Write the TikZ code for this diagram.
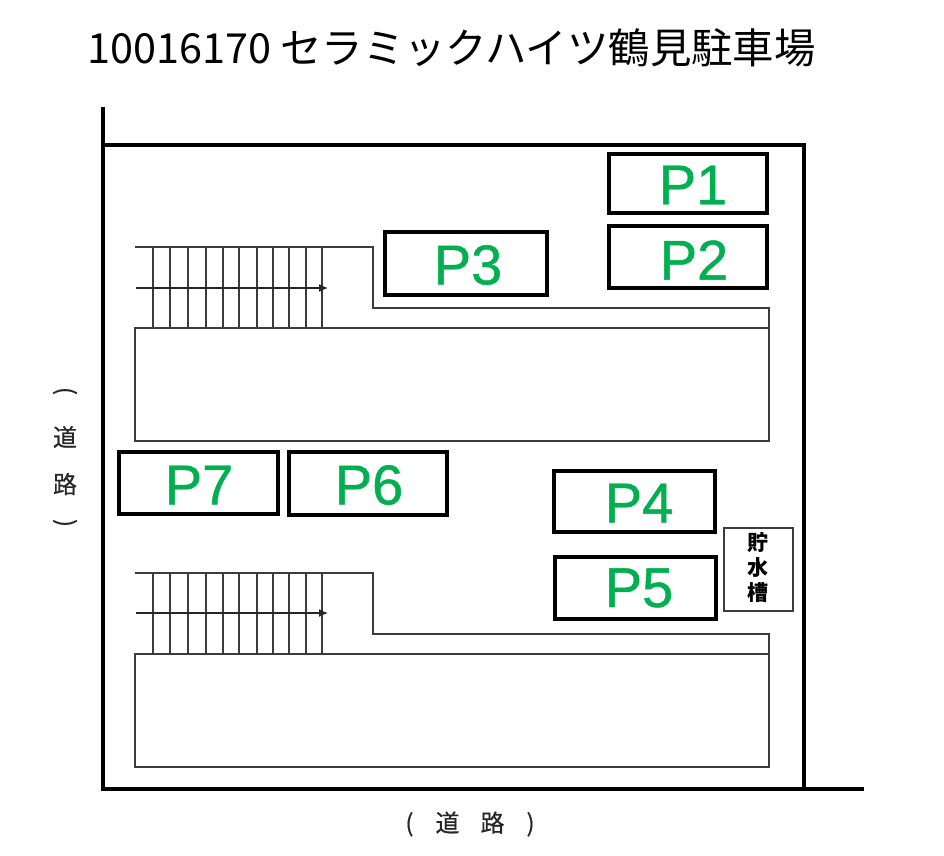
\documentclass[tikz,border=0pt]{standalone}
\usepackage{fontspec}
\usetikzlibrary{arrows.meta}
\setmainfont{Liberation Sans}
\newfontfamily\jpfont{Noto Sans CJK JP}
\newfontfamily\jproadfont[FakeBold=0.5]{Noto Sans CJK JP}
\newfontfamily\lotfont[FakeBold=0.8]{Liberation Sans}
\definecolor{lotgreen}{RGB}{0,176,80}
\definecolor{planline}{RGB}{60,60,60}
\tikzset{
  lot/.style={draw=black,line width=3.5pt},
  lotlabel/.style={text=lotgreen,font=\lotfont\fontsize{56}{56}\selectfont},
  road/.style={font=\jproadfont\fontsize{24}{24}\selectfont,text=black!85,inner sep=0pt},
  plan/.style={draw=planline,line width=1.3pt},
  wall/.style={draw=black,line width=4pt},
  walkway/.style={draw=black!85,line width=1.3pt,-{Latex[length=9pt,width=8pt]}}
}
\begin{document}
\begin{tikzpicture}[x=1pt,y=-1pt]
\useasboundingbox (0,0) rectangle (944,855);
\node[inner sep=0pt,anchor=center,font=\jpfont\fontsize{41.4}{41.4}\selectfont] (title) at (451.5,48) {10016170 セラミックハイツ鶴見駐車場};
% site boundary
\draw[wall] (103,107)--(103,789)--(864,789);
\draw[wall] (103,145)--(804,145)--(804,789);
% upper block
\draw[plan] (135,247)--(373,247)--(373,308)--(769,308)--(769,328);
\draw[plan] (135,328) rectangle (769,441);
\foreach \x in {153,170,188,206,223,239,257,273,289,306,322}
	\draw[plan] (\x,247)--(\x,328);
\draw[walkway] (136,288)--(328,288);
% lower block
\draw[plan] (135,573)--(373,573)--(373,634)--(769,634)--(769,654);
\draw[plan] (135,654) rectangle (769,767);
\foreach \x in {153,170,188,206,223,239,257,273,289,306,322}
	\draw[plan] (\x,573)--(\x,654);
\draw[walkway] (136,613)--(328,613);
% parking lots
\draw[lot] (609,154) rectangle (767,213);
\draw[lot] (609,226) rectangle (767,288);
\draw[lot] (385,232) rectangle (547,295);
\draw[lot] (554,471) rectangle (715,532);
\draw[lot] (555,557) rectangle (716,619);
\draw[lot] (289,452) rectangle (447,515);
\draw[lot] (119,452) rectangle (278,514);
\node[lotlabel] (p1) at (693,185) {P1};
\node[lotlabel] (p2) at (694,260) {P2};
\node[lotlabel] (p3) at (468,265) {P3};
\node[lotlabel] (p4) at (639,503) {P4};
\node[lotlabel] (p5) at (639,588) {P5};
\node[lotlabel] (p6) at (369,485) {P6};
\node[lotlabel] (p7) at (199,485) {P7};
% water tank
\draw[plan] (724,528) rectangle (793,611);
\node[inner sep=0pt,align=center,font=\jpfont\bfseries\fontsize{21}{25}\selectfont] (tank) at (758,568) {貯\\水\\槽};
% roads
\node[road] (roadl1) at (65,437) {道};
\node[road] (roadl2) at (65,484) {路};
\node[road,rotate=-90] (roadl0) at (65,391) {(};
\node[road,rotate=-90] (roadl3) at (65,523) {)};
\node[road] (roadb) at (470,824) {(\hspace{22pt}道\hspace{21pt}路\hspace{22pt})};
\end{tikzpicture}
\end{document}
